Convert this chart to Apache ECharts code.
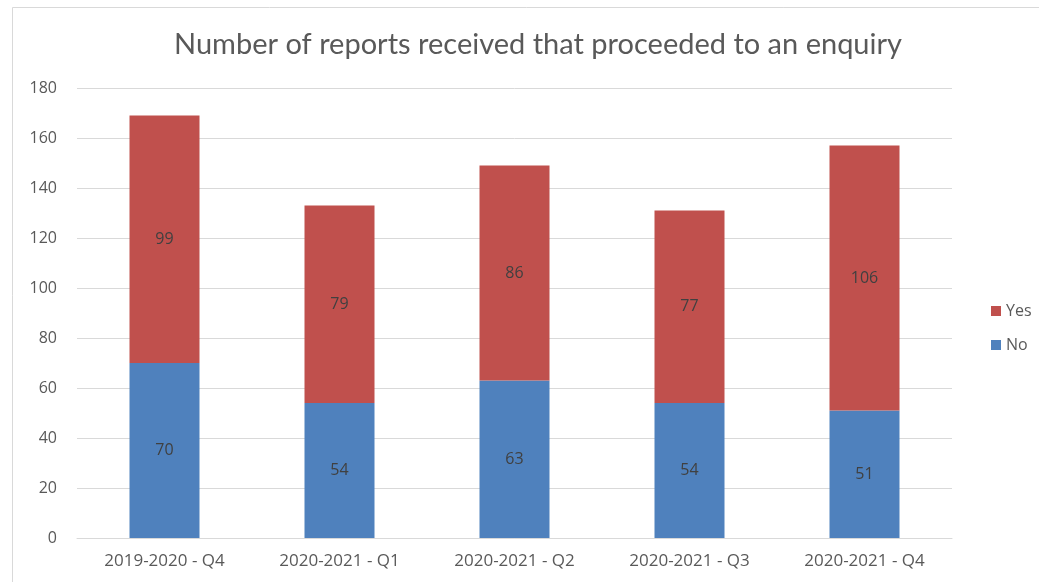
<!DOCTYPE html>
<html>
<head>
<meta charset="utf-8">
<script src="https://cdn.jsdelivr.net/npm/echarts@6/dist/echarts.min.js"></script>
<style>
  html, body { margin:0; padding:0; background:#fff; }
  #chart { width:1039px; height:582px; }
</style>
</head>
<body>
<div id="chart"></div>
<script>
var categories = ['2019-2020 - Q4','2020-2021 - Q1','2020-2021 - Q2','2020-2021 - Q3','2020-2021 - Q4'];
var noValues = [70, 54, 63, 54, 51];
var yesValues = [99, 79, 86, 77, 106];
var yTicks = {min:0, max:180, interval:20};

var font = '"Open Sans", Lato, sans-serif';
var titleFont = 'Lato, "Open Sans", sans-serif';
var chart = echarts.init(document.getElementById('chart'), null, {renderer:'canvas'});
chart.setOption({
  animation:false,
  backgroundColor:'#fff',
  textStyle:{fontFamily:font},
  graphic:[{type:'rect', shape:{x:12.5, y:7.5, width:1100, height:700}, style:{fill:'none', stroke:'#d9d9d9', lineWidth:1}, silent:true}],
  title:{text:'Number of reports received that proceeded to an enquiry', left:533, top:25, textAlign:'center',
    textStyle:{color:'#595959', fontSize:29, fontWeight:'normal', fontFamily:titleFont}},
  legend:{orient:'vertical', left:986, top:298, itemWidth:10, itemHeight:10, itemGap:18,
    icon:'rect', data:['Yes','No'], textStyle:{color:'#595959', fontSize:16, fontFamily:font}},
  grid:{left:77, right:87, top:88, bottom:44},
  xAxis:{type:'category', data:categories,
    axisLine:{lineStyle:{color:'#d9d9d9'}}, axisTick:{show:false},
    axisLabel:{color:'#595959', fontSize:17, margin:15, fontFamily:font}},
  yAxis:{type:'value', min:yTicks.min, max:yTicks.max, interval:yTicks.interval,
    axisLine:{show:false}, axisTick:{show:false},
    axisLabel:{color:'#595959', fontSize:16, margin:20, fontFamily:font},
    splitLine:{lineStyle:{color:'#d9d9d9'}}},
  series:[
    {name:'No', type:'bar', stack:'t', data:noValues, barWidth:70, itemStyle:{color:'#4f81bd'},
      label:{show:true, position:'inside', color:'#404040', fontSize:16, fontFamily:font}},
    {name:'Yes', type:'bar', stack:'t', data:yesValues, barWidth:70, itemStyle:{color:'#c0504d'},
      label:{show:true, position:'inside', color:'#404040', fontSize:16, fontFamily:font}}
  ]
});
</script>
</body>
</html>
